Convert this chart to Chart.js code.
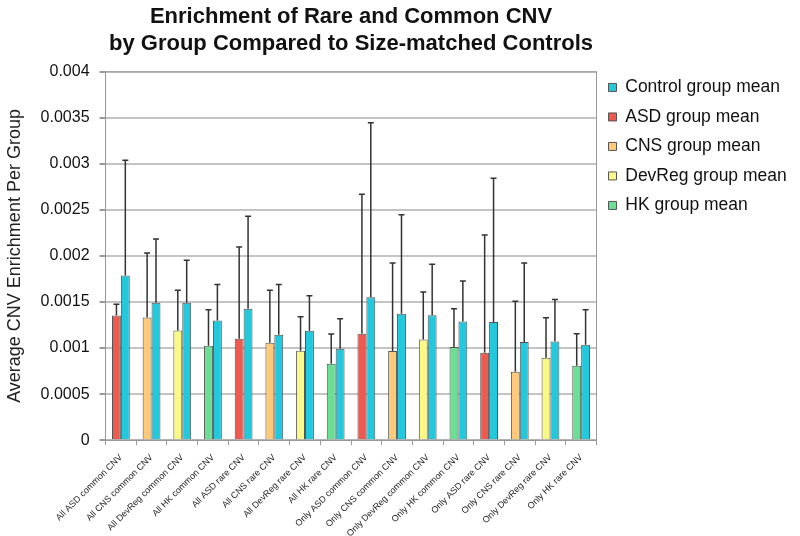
<!DOCTYPE html>
<html lang="en">
<head>
    <meta charset="UTF-8">
    <title>Enrichment of Rare and Common CNV</title>
    <script src="https://cdn.jsdelivr.net/npm/chart.js"></script>
    <style>
        body {
            margin: 0;
            background-color: #FFFFFF;
        }

        .chart-container {
            width: 800px;
            height: 536px;
        }
    </style>
</head>
<body>
    <div class="chart-container">
        <canvas id="cnvChart"></canvas>
    </div>

    <script>
        const categories = [
            'All ASD common CNV', 'All CNS common CNV', 'All DevReg common CNV', 'All HK common CNV',
            'All ASD rare CNV', 'All CNS rare CNV', 'All DevReg rare CNV', 'All HK rare CNV',
            'Only ASD common CNV', 'Only CNS common CNV', 'Only DevReg common CNV', 'Only HK common CNV',
            'Only ASD rare CNV', 'Only CNS rare CNV', 'Only DevReg rare CNV', 'Only HK rare CNV'
        ];
        const groupOf = ['ASD', 'CNS', 'DevReg', 'HK', 'ASD', 'CNS', 'DevReg', 'HK',
                         'ASD', 'CNS', 'DevReg', 'HK', 'ASD', 'CNS', 'DevReg', 'HK'];
        const groupMeans = [0.001354, 0.001332, 0.001191, 0.001025, 0.001101, 0.001058, 0.000971, 0.000830,
                            0.001155, 0.000968, 0.001094, 0.001011, 0.000949, 0.000744, 0.000895, 0.000809];
        const groupErrors = [0.000123, 0.000700, 0.000437, 0.000390, 0.000996, 0.000570, 0.000368, 0.000322,
                             0.001516, 0.000956, 0.000516, 0.000415, 0.001278, 0.000765, 0.000434, 0.000346];
        const controlMeans = [0.001787, 0.001491, 0.001491, 0.001300, 0.001426, 0.001144, 0.001188, 0.000993,
                              0.001552, 0.001372, 0.001357, 0.001289, 0.001282, 0.001065, 0.001072, 0.001036];
        const controlErrors = [0.001253, 0.000693, 0.000462, 0.000390, 0.001004, 0.000546, 0.000379, 0.000325,
                               0.001896, 0.001076, 0.000553, 0.000440, 0.001563, 0.000859, 0.000455, 0.000379];
        const groups = ['ASD', 'CNS', 'DevReg', 'HK'];
        const yTicks = [0, 0.0005, 0.001, 0.0015, 0.002, 0.0025, 0.003, 0.0035, 0.004];

        const colors = {
            Control: '#22C8DB',
            ASD: '#EE5A4F',
            CNS: '#FFC97A',
            DevReg: '#FAF987',
            HK: '#6BDF94'
        };

        const datasets = groups.map(g => ({
            label: g + ' group mean',
            data: groupMeans.map((v, i) => groupOf[i] === g ? v : null),
            errors: groupErrors.map((v, i) => groupOf[i] === g ? v : null),
            backgroundColor: colors[g]
        }));
        datasets.push({
            label: 'Control group mean',
            data: controlMeans,
            errors: controlErrors,
            backgroundColor: colors.Control
        });

        // error bars: upper whisker with a small cap
        const errorBars = {
            id: 'errorBars',
            afterDatasetsDraw(chart) {
                const ctx = chart.ctx;
                const y = chart.scales.y;
                ctx.save();
                ctx.strokeStyle = '#333333';
                ctx.lineWidth = 1.5;
                chart.data.datasets.forEach((ds, di) => {
                    chart.getDatasetMeta(di).data.forEach((bar, i) => {
                        if (ds.data[i] == null) return;
                        const top = y.getPixelForValue(ds.data[i] + ds.errors[i]);
                        ctx.beginPath();
                        ctx.moveTo(bar.x, bar.y);
                        ctx.lineTo(bar.x, top);
                        ctx.moveTo(bar.x - 3, top);
                        ctx.lineTo(bar.x + 3, top);
                        ctx.stroke();
                    });
                });
                ctx.restore();
            }
        };

        const frame = {
            id: 'frame',
            beforeDatasetsDraw(chart) {
                const a = chart.chartArea;
                const ctx = chart.ctx;
                ctx.save();
                ctx.strokeStyle = '#999999';
                ctx.lineWidth = 1;
                ctx.strokeRect(a.left, a.top, a.right - a.left, a.bottom - a.top);
                ctx.restore();
            }
        };

        Chart.defaults.font.family = "'Liberation Sans', Arial, sans-serif";
        Chart.defaults.color = '#222222';

        new Chart(document.getElementById('cnvChart'), {
            type: 'bar',
            data: { labels: categories, datasets: datasets },
            plugins: [errorBars, frame],
            options: {
                responsive: true,
                maintainAspectRatio: false,
                animation: false,
                skipNull: true,
                borderColor: '#555555',
                borderWidth: 1,
                categoryPercentage: 0.58,
                barPercentage: 1.0,
                layout: { padding: { top: 4, right: 6, left: 4, bottom: 0 } },
                plugins: {
                    title: {
                        display: true,
                        fullSize: false,
                        text: ['Enrichment of Rare and Common CNV', 'by Group Compared to Size-matched Controls'],
                        font: { size: 22, weight: 'bold' },
                        color: '#111111',
                        lineHeight: 1.27,
                        padding: { top: 0, bottom: 15 }
                    },
                    legend: {
                        position: 'right',
                        align: 'start',
                        title: {
                            display: true,
                            text: ' ',
                            font: { size: 16 },
                            padding: { top: 20, bottom: 23.5 }
                        },
                        labels: {
                            boxWidth: 8,
                            boxHeight: 8,
                            padding: 12,
                            font: { size: 17.5 },
                            color: '#111111',
                            sort: (a, b) => (b.datasetIndex === 4) - (a.datasetIndex === 4) || a.datasetIndex - b.datasetIndex
                        }
                    },
                    tooltip: { enabled: false }
                },
                scales: {
                    x: {
                        afterFit: axis => { axis.height -= 10; },
                        grid: { drawOnChartArea: false, drawTicks: true, tickLength: 5, color: '#999999' },
                        border: { color: '#999999' },
                        ticks: {
                            maxRotation: 45,
                            minRotation: 45,
                            autoSkip: false,
                            padding: 7,
                            font: { size: 9 },
                            color: '#222222'
                        }
                    },
                    y: {
                        min: 0,
                        max: 0.004,
                        afterBuildTicks: axis => { axis.ticks = yTicks.map(v => ({ value: v })); },
                        grid: { color: '#C4C4C4', lineWidth: 2, tickLength: 6, tickColor: '#999999' },
                        border: { color: '#999999' },
                        ticks: {
                            font: { size: 16 },
                            color: '#111111',
                            padding: 10,
                            callback: v => String(v)
                        },
                        title: {
                            display: true,
                            text: 'Average CNV Enrichment Per Group',
                            font: { size: 18 },
                            color: '#222222',
                            padding: { top: 0, bottom: 5 }
                        }
                    }
                }
            }
        });
    </script>
</body>
</html>
